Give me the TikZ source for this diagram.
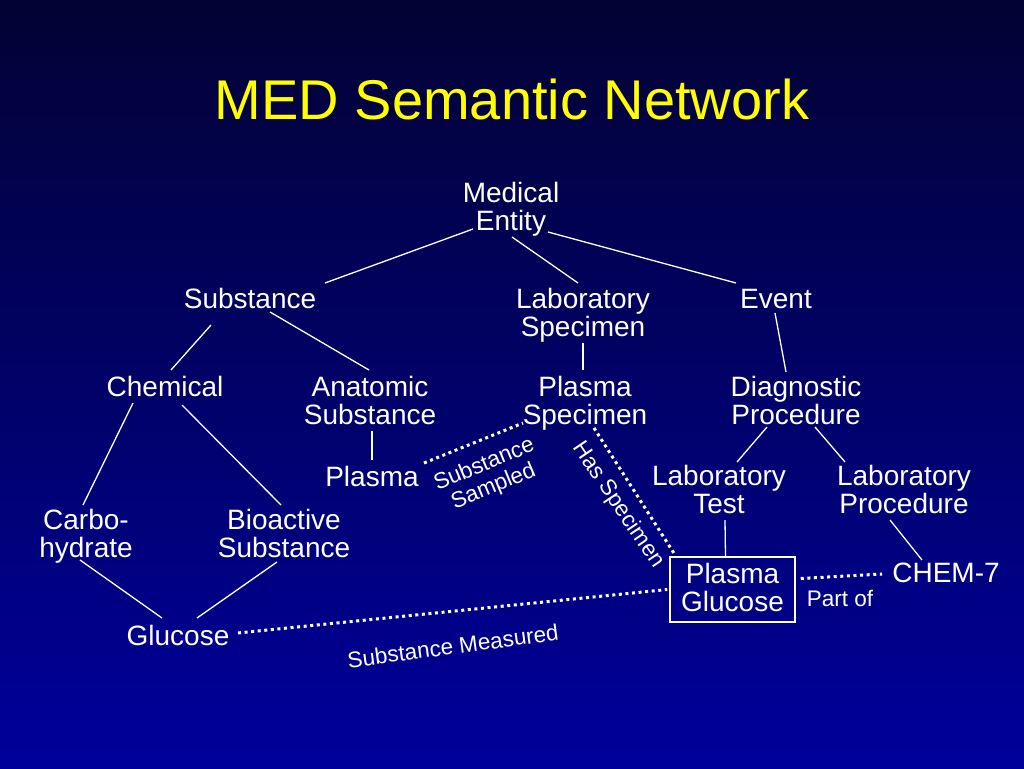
\documentclass[tikz,border=0pt]{standalone}
\usepackage{fontspec}
\setmainfont{Liberation Sans}
\usetikzlibrary{calc}
\definecolor{bgtop}{RGB}{2,2,52}
\definecolor{bgbot}{RGB}{0,0,156}
\definecolor{ttl}{RGB}{255,255,0}
\tikzset{
  ent/.style={text=white, font=\fontsize{28}{28}\selectfont, align=center, inner sep=0pt, text height=20pt, text depth=0pt},
  ent2/.style={ent, text height=48pt},
  lbl/.style={text=white, font=\fontsize{22.5}{24}\selectfont, align=center, inner sep=0pt},
  isa/.style={draw=white, line width=1.3pt},
  rel/.style={draw=white, line width=3pt, dash pattern=on 3pt off 3.6pt},
  boxed/.style={draw=white, line width=1.5pt, minimum width=125pt, minimum height=65pt}
}
\begin{document}
\begin{tikzpicture}[x=1pt,y=-1pt]
\useasboundingbox (0,0) rectangle (1024,768);
\shade[top color=bgtop, bottom color=bgbot] (0,0) rectangle (1024,768);
\node[text=ttl, font=\fontsize{56}{56}\selectfont, inner sep=0pt, text height=40pt, text depth=0pt] (title) at (512,99) {MED Semantic Network};

\node[ent2] (me) at (511,206) {Medical\\Entity};
\node[ent] (sub) at (250,298) {Substance};
\node[ent2] (ls) at (583,312) {Laboratory\\Specimen};
\node[ent] (ev) at (776,298) {Event};
\node[ent] (chem) at (165,386) {Chemical};
\node[ent2] (anat) at (370,400) {Anatomic\\Substance};
\node[ent2] (ps) at (585,400) {Plasma\\Specimen};
\node[ent2] (dp) at (796,400) {Diagnostic\\Procedure};
\node[ent] (pl) at (372,476) {Plasma};
\node[ent2] (lt) at (719,489) {Laboratory\\Test};
\node[ent2] (lp) at (904,489) {Laboratory\\Procedure};
\node[ent2] (carb) at (86,533) {Carbo-\\hydrate};
\node[ent2] (bio) at (284,533) {Bioactive\\Substance};
\node[ent] (glu) at (178,635) {Glucose};
\node[boxed] (pgb) at (732.5,589.5) {};
\node[ent2] (pg) at ($(pgb.center)+(0,-2)$) {Plasma\\Glucose};
\node[ent] (c7) at (946,572) {CHEM-7};

\draw[isa] ($(me)+(-38,23)$) -- ($(sub)+(75,-15)$);
\draw[isa] ($(me)+(1,31)$) -- ($(ls)+(-5,-29)$);
\draw[isa] ($(me)+(37,26)$) -- ($(ev)+(-40,-15)$);
\draw[isa] ($(sub)+(-39,27)$) -- ($(chem)+(6,-16)$);
\draw[isa] ($(sub)+(20,14)$) -- ($(anat)+(-1,-30)$);
\draw[isa] ($(ls)+(0,31)$) -- ($(ps)+(-2,-30)$);
\draw[isa] ($(ev)+(-1,15)$) -- ($(dp)+(-10,-28)$);
\draw[isa] ($(chem)+(-32,17)$) -- ($(carb)+(-3,-28)$);
\draw[isa] ($(chem)+(17,19)$) -- ($(bio)+(-3,-28)$);
\draw[isa] ($(anat)+(2,31)$) -- ($(pl)+(0,-16)$);
\draw[isa] ($(dp)+(-29,27)$) -- ($(lt)+(18,-27)$);
\draw[isa] ($(dp)+(19,27)$) -- ($(lp)+(-59,-27)$);
\draw[isa] ($(lp)+(-14,31)$) -- ($(c7)+(-24,-12)$);
\draw[isa] ($(lt)+(6,31)$) -- ($(pgb.north)+(-7,0)$);
\draw[isa] ($(carb)+(-6,27)$) -- ($(glu)+(-16,-17)$);
\draw[isa] ($(bio)+(-7,29)$) -- ($(glu)+(19,-17)$);

\draw[rel] ($(pl)+(52,-13)$) -- ($(ps)+(-62,23)$);
\draw[rel] ($(ps)+(9,28)$) -- ($(pgb.north west)+(6,-1)$);
\draw[rel] ($(glu)+(60,-2)$) -- ($(pgb.west)+(-2,0)$);
\draw[rel] ($(pgb.east)+(5,-11)$) -- ($(c7)+(-64,2)$);

\node[lbl, rotate=22.6] (lss) at (489,476) {Substance\\Sampled};
\node[lbl, rotate=-56] (lhs) at (618,505) {Has Specimen};
\node[lbl, rotate=7.6] (lsm) at (453,646) {Substance Measured};
\node[lbl] (lpo) at (840,598) {Part of};
\end{tikzpicture}
\end{document}
